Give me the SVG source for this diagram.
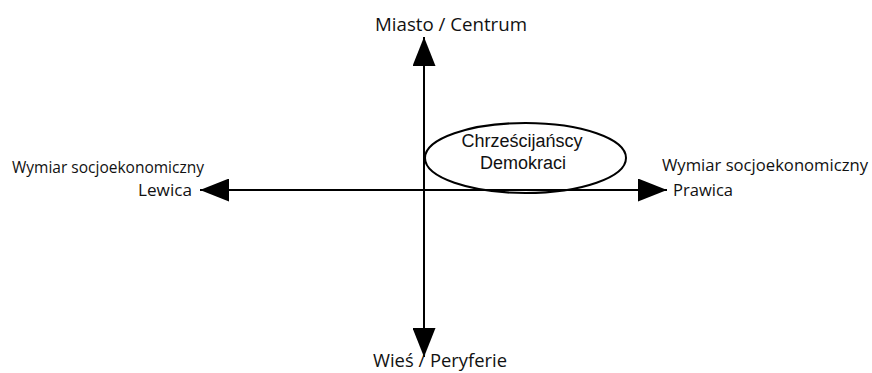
<svg xmlns="http://www.w3.org/2000/svg" width="872" height="373" viewBox="0 0 872 373">
<style>
.ax{stroke:#000;stroke-width:2;fill:none}
.lbl{font-family:"Open Sans","DejaVu Sans",sans-serif;font-size:17px;fill:#111}
.nt{font-family:"Liberation Sans",Arial,sans-serif;font-size:18px;fill:#111;text-anchor:middle}
</style>
<defs>
<marker id="ah" viewBox="0 0 29 23" refX="29" refY="11.5" markerWidth="29" markerHeight="23" markerUnits="userSpaceOnUse" orient="auto">
<path d="M0,0 L29,11.5 L0,23 Z" fill="#000"/>
</marker>
</defs>
<rect width="872" height="373" fill="#fff"/>
<g id="connectors">
<line class="ax" x1="424" y1="191" x2="424" y2="37" marker-end="url(#ah)"/>
<line class="ax" x1="424" y1="191" x2="424" y2="357" marker-end="url(#ah)"/>
<line class="ax" x1="424" y1="190" x2="200" y2="190" marker-end="url(#ah)"/>
<line class="ax" x1="424" y1="190" x2="667" y2="190" marker-end="url(#ah)"/>
</g>
<g id="node-chd">
<ellipse cx="525.5" cy="158" rx="100.5" ry="35" fill="none" stroke="#000" stroke-width="2"/>
<text class="nt" x="522" y="147">Chrześcijańscy</text>
<text class="nt" x="523" y="169">Demokraci</text>
</g>
<g id="label-top"><text class="lbl" x="375" y="31" style="font-size:18.5px" textLength="152" lengthAdjust="spacingAndGlyphs">Miasto / Centrum</text></g>
<g id="label-bottom"><text class="lbl" x="373" y="367" style="font-size:18.5px" textLength="134" lengthAdjust="spacingAndGlyphs">Wieś / Peryferie</text></g>
<g id="label-left">
<text class="lbl" x="12" y="173" textLength="192" lengthAdjust="spacingAndGlyphs">Wymiar socjoekonomiczny</text>
<text class="lbl" x="138" y="196" textLength="54" lengthAdjust="spacingAndGlyphs">Lewica</text>
</g>
<g id="label-right">
<text class="lbl" x="662" y="171" textLength="206" lengthAdjust="spacingAndGlyphs">Wymiar socjoekonomiczny</text>
<text class="lbl" x="673" y="196" textLength="60" lengthAdjust="spacingAndGlyphs">Prawica</text>
</g>
</svg>
